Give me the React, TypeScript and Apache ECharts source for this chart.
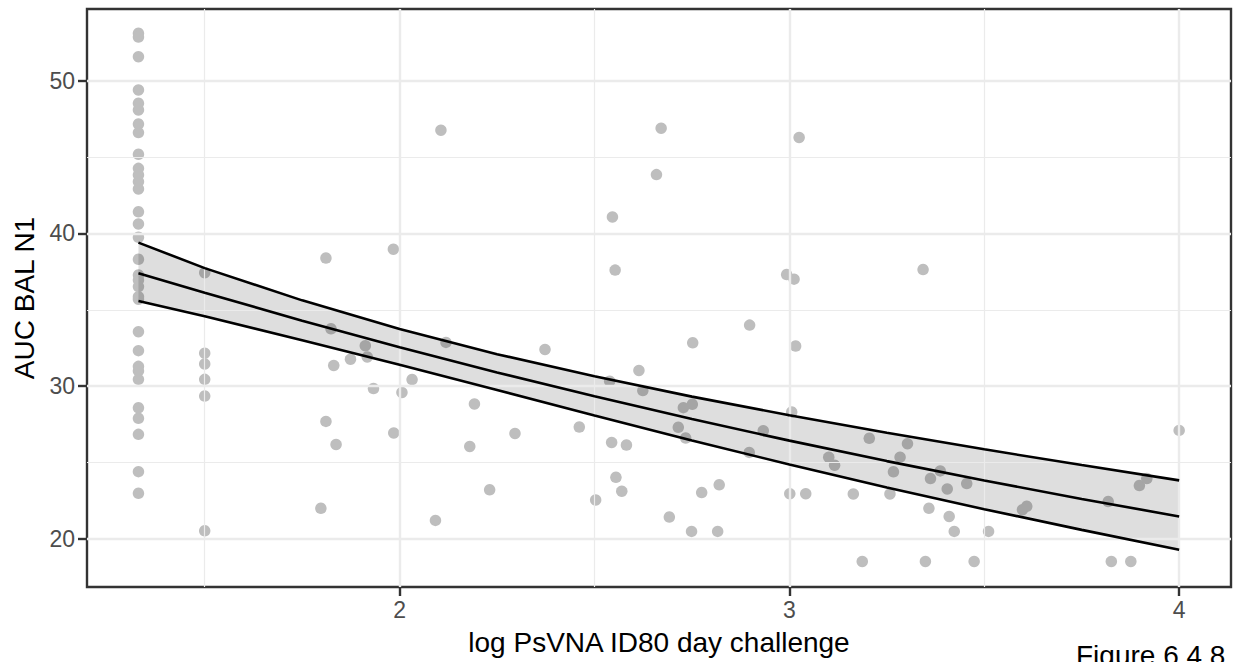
import React, { useEffect, useRef } from "react";
import * as echarts from "echarts";

// Column of points at the left (x ≈ 1.33)
const col1X = 1.33;
const col1Y = [
  53.1, 52.85, 51.57, 49.39, 48.52, 48.08, 47.16, 46.6, 45.18, 44.26, 43.83, 43.39, 42.91,
  41.42, 40.62, 39.75, 38.31, 37.28, 36.95, 36.52, 35.86, 35.7, 33.57, 32.33, 31.3, 31.0,
  30.45, 28.59, 27.9, 26.85, 24.41, 22.99,
];
// Column at x = 1.5
const col2X = 1.5;
const col2Y = [37.43, 32.16, 31.46, 30.45, 29.36, 20.54];

// Remaining points
const otherX = [
  1.811, 1.984, 1.824, 1.831, 1.874, 1.912, 1.917, 1.933, 2.032, 2.006, 1.985, 1.811, 1.837, 1.798,
  2.106, 2.671, 3.025, 2.659, 2.546, 2.553, 2.993, 3.012, 2.898, 2.752, 3.016, 2.119, 2.373,
  2.614, 2.539, 2.624, 2.192, 2.728, 2.751, 3.006, 2.296, 2.461, 2.715, 2.734, 2.933, 2.18,
  2.544, 2.582, 2.897, 2.555, 2.231, 2.57, 2.503, 2.775, 2.82, 3.001, 3.042, 2.092, 2.692,
  2.749, 2.816, 4.0, 3.205, 3.303, 3.101, 3.116, 3.284, 3.267, 3.387, 3.362, 3.405, 3.455,
  3.164, 3.258, 3.358, 3.41, 3.423, 3.511, 3.598, 3.609, 3.818, 3.898, 3.917, 3.187, 3.349,
  3.474, 3.826, 3.876, 3.343,
];
const otherY = [
  38.39, 38.97, 33.76, 31.36, 31.77, 32.65, 31.92, 29.85, 30.44, 29.59, 26.94, 27.7, 26.19, 22.01,
  46.76, 46.89, 46.28, 43.85, 41.08, 37.6, 37.31, 37.01, 34.0, 32.84, 32.63, 32.87, 32.41,
  31.03, 30.33, 29.72, 28.84, 28.6, 28.82, 28.31, 26.91, 27.33, 27.31, 26.61, 27.09, 26.06,
  26.32, 26.15, 25.67, 24.04, 23.22, 23.13, 22.56, 23.04, 23.55, 22.97, 22.97, 21.22, 21.44,
  20.5, 20.5, 27.11, 26.59, 26.24, 25.36, 24.83, 25.36, 24.4, 24.46, 23.96, 23.28, 23.63,
  22.95, 22.95, 22.01, 21.48, 20.5, 20.5, 21.92, 22.14, 22.45, 23.5, 23.96, 18.53, 18.53,
  18.53, 18.53, 18.53, 37.64,
];

// Fitted curve and confidence band
const fitX = [1.33, 1.5, 1.75, 2, 2.25, 2.5, 2.75, 3, 3.25, 3.5, 3.75, 4];
const fitMid = [37.4, 36.12, 34.29, 32.55, 30.9, 29.34, 27.85, 26.44, 25.1, 23.83, 22.62, 21.48];
const fitUpper = [39.4, 37.73, 35.62, 33.74, 32.1, 30.65, 29.32, 28.1, 26.96, 25.87, 24.84, 23.84];
const fitLower = [35.58, 34.58, 33.01, 31.4, 29.75, 28.09, 26.45, 24.88, 23.37, 21.95, 20.6, 19.3];

const xTicks = [2, 3, 4];
const yTicks = [20, 30, 40, 50];
const xMinorGrid = [1.5, 2.5, 3.5];
const yMinorGrid = [25, 35, 45];

const FONT = "'Liberation Sans', Arial, Helvetica, sans-serif";

export default function App() {
  const ref = useRef<HTMLDivElement>(null);

  useEffect(() => {
    if (!ref.current) return;
    const chart = echarts.init(ref.current, undefined, { renderer: "svg" });

    const points: number[][] = [];
    col1Y.forEach((y) => points.push([col1X, y]));
    col2Y.forEach((y) => points.push([col2X, y]));
    otherX.forEach((x, i) => points.push([x, otherY[i]]));

    const gridLines: any[] = [];
    xMinorGrid.forEach((v) => gridLines.push({ xAxis: v, lineStyle: { width: 1.2 } }));
    xTicks.forEach((v) => gridLines.push({ xAxis: v, lineStyle: { width: 2.4 } }));
    yMinorGrid.forEach((v) => gridLines.push({ yAxis: v, lineStyle: { width: 1.2 } }));
    yTicks.forEach((v) => gridLines.push({ yAxis: v, lineStyle: { width: 2.4 } }));

    const lineSeries = (vals: number[], name: string) => ({
      type: "line",
      name,
      data: fitX.map((x, i) => [x, vals[i]]),
      showSymbol: false,
      symbol: "none",
      lineStyle: { color: "#000000", width: 2.6 },
      z: 5,
      silent: true,
    });

    chart.setOption({
      animation: false,
      textStyle: { fontFamily: FONT },
      grid: {
        left: 87,
        right: 4,
        top: 9,
        bottom: 75,
        show: true,
        borderColor: "#333333",
        borderWidth: 2.4,
        backgroundColor: "transparent",
        containLabel: false,
      },
      xAxis: {
        type: "value",
        min: 1.198,
        max: 4.133,
        axisLine: { show: false },
        splitLine: { show: false },
        axisTick: {
          show: true,
          customValues: xTicks,
          length: 9,
          lineStyle: { color: "#333333", width: 2.4 },
        },
        axisLabel: {
          customValues: xTicks,
          color: "#4d4d4d",
          fontSize: 23,
          margin: 11,
          fontFamily: FONT,
        },
        name: "log PsVNA ID80 day challenge",
        nameLocation: "middle",
        nameGap: 41,
        nameTextStyle: { fontSize: 28, color: "#000000", fontFamily: FONT },
      },
      yAxis: {
        type: "value",
        min: 16.86,
        max: 54.69,
        axisLine: { show: false },
        splitLine: { show: false },
        axisTick: {
          show: true,
          customValues: yTicks,
          length: 9,
          lineStyle: { color: "#333333", width: 2.4 },
        },
        axisLabel: {
          customValues: yTicks,
          color: "#4d4d4d",
          fontSize: 23,
          margin: 12,
          fontFamily: FONT,
        },
        name: "AUC BAL N1",
        nameLocation: "middle",
        nameGap: 46,
        nameTextStyle: { fontSize: 28, color: "#000000", fontFamily: FONT },
      },
      graphic: [
        {
          type: "text",
          left: 1076,
          top: 641,
          style: { text: "Figure 6.4.8", fontSize: 28, fill: "#000000", fontFamily: FONT },
        },
      ],
      series: [
        {
          type: "line",
          name: "grid",
          data: [],
          z: 1,
          silent: true,
          markLine: {
            silent: true,
            symbol: "none",
            label: { show: false },
            lineStyle: { color: "#ebebeb", type: "solid" },
            data: gridLines,
          },
        },
        {
          type: "scatter",
          name: "points",
          data: points,
          symbol: "circle",
          symbolSize: 11.5,
          itemStyle: { color: "#bebebe", opacity: 1 },
          z: 2,
          silent: true,
        },
        {
          type: "custom",
          name: "band",
          data: [[fitX[0], fitMid[0]]],
          z: 3,
          silent: true,
          renderItem: (params: any, api: any) => {
            if (params.dataIndex !== 0) return null;
            const up = fitX.map((x, i) => api.coord([x, fitUpper[i]]));
            const lo = fitX.map((x, i) => api.coord([x, fitLower[i]])).reverse();
            return {
              type: "polygon",
              shape: { points: up.concat(lo) },
              style: { fill: "rgba(0,0,0,0.13)", stroke: "none" },
            };
          },
        },
        lineSeries(fitUpper, "upper"),
        lineSeries(fitMid, "fit"),
        lineSeries(fitLower, "lower"),
      ],
    });

    return () => chart.dispose();
  }, []);

  return (
    <div
      ref={ref}
      style={{ position: "absolute", left: 0, top: 0, width: 1235, height: 662, background: "#ffffff" }}
    />
  );
}
